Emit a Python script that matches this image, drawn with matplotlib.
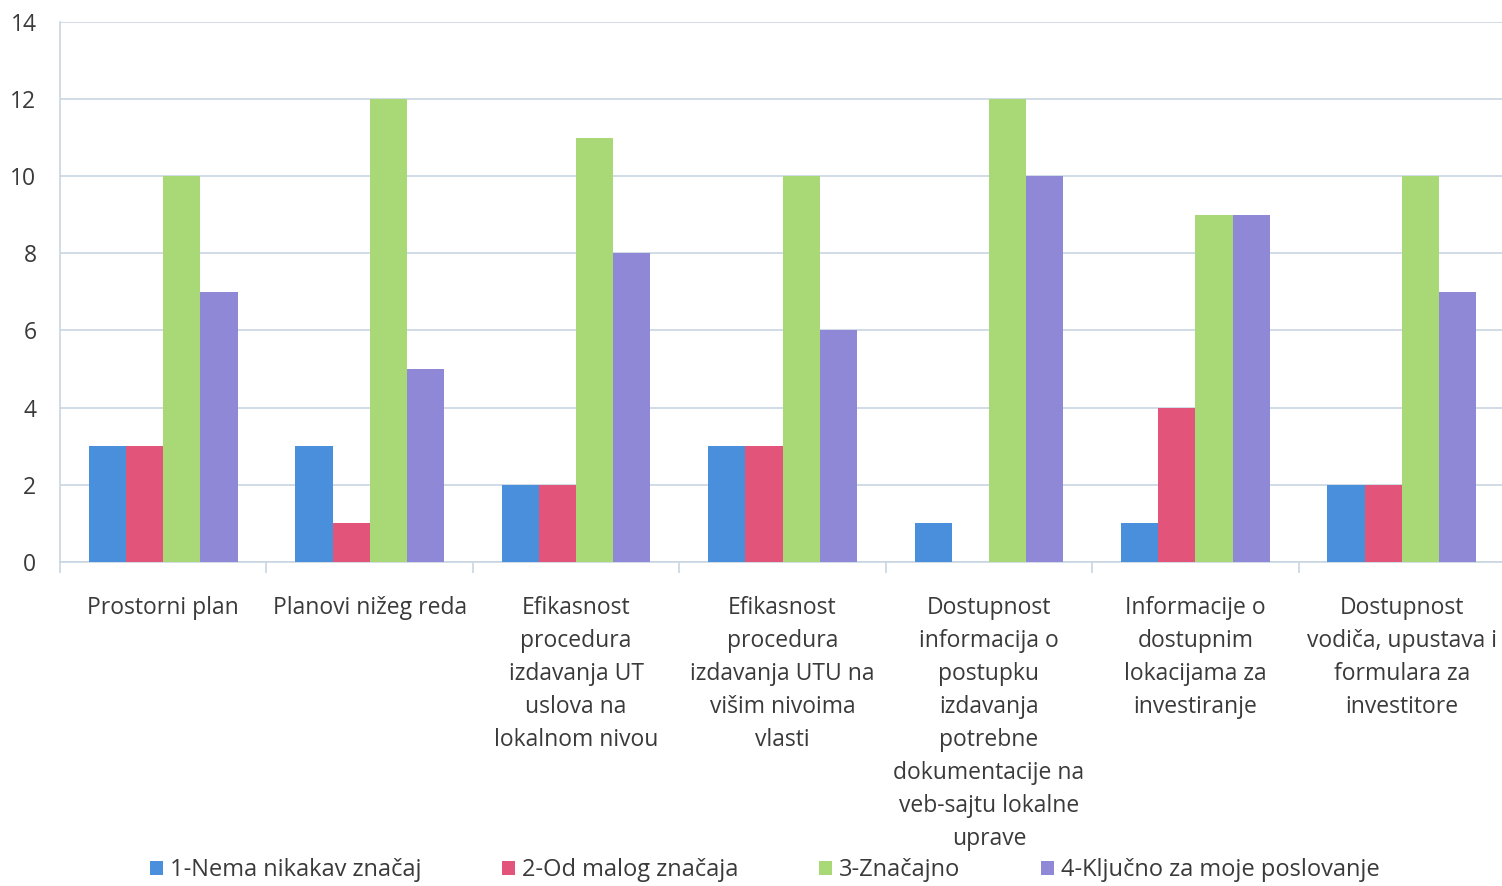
import matplotlib.pyplot as plt
import numpy as np

plt.rcParams['font.family'] = ['Open Sans', 'DejaVu Sans']

kategorije = [
    'Prostorni plan',
    'Planovi nižeg reda',
    'Efikasnost\nprocedura\nizdavanja UT\nuslova na\nlokalnom nivou',
    'Efikasnost\nprocedura\nizdavanja UTU na\nvišim nivoima\nvlasti',
    'Dostupnost\ninformacija o\npostupku\nizdavanja\npotrebne\ndokumentacije na\nveb-sajtu lokalne\nuprave',
    'Informacije o\ndostupnim\nlokacijama za\ninvestiranje',
    'Dostupnost\nvodiča, upustava i\nformulara za\ninvestitore',
]
serije = ['1-Nema nikakav značaj', '2-Od malog značaja', '3-Značajno',
          '4-Ključno za moje poslovanje']
nema_znacaj = [3, 3, 2, 3, 1, 1, 2]
mali_znacaj = [3, 1, 2, 3, 0, 4, 2]
znacajno = [10, 12, 11, 10, 12, 9, 10]
kljucno = [7, 5, 8, 6, 10, 9, 7]
boje = ['#4a8fdc', '#e3547a', '#a9d977', '#8f88d6']

vrijednosti = [nema_znacaj, mali_znacaj, znacajno, kljucno]

fig = plt.figure(figsize=(15.02, 8.86), dpi=100)
ax = fig.add_axes([0.04, 0.366, 0.962, 0.609])

x = np.arange(len(kategorije))
w = 0.18
for i, (v, lab, c) in enumerate(zip(vrijednosti, serije, boje)):
    ax.bar(x + (i - 1.5) * w, v, w, color=c, label=lab, zorder=3)

ax.set_xlim(-0.5, len(kategorije) - 0.5)
ax.set_ylim(0, 14)
ax.set_yticks(range(0, 15, 2))
ax.grid(axis='y', color='#c9d5e2', linewidth=1.2, zorder=0)

# granice kategorija kao glavne oznake, nazivi kao sporedne
ax.set_xticks(np.arange(-0.5, len(kategorije)), labels=[])
ax.set_xticks(x, labels=kategorije, minor=True)
ax.tick_params(axis='x', which='major', length=8, color='#c9d5e2', width=1.2)
ax.tick_params(axis='x', which='minor', length=0, pad=25, labelsize=16.5,
               labelcolor='#3a3a3a')
for t in ax.get_xticklabels(minor=True):
    t.set_linespacing(1.5)
ax.tick_params(axis='y', length=0, pad=17, labelsize=16.5, labelcolor='#3a3a3a')

for s in ['top', 'right']:
    ax.spines[s].set_visible(False)
ax.spines['left'].set_color('#c9d5e2')
ax.spines['bottom'].set_color('#c9d5e2')
ax.spines['left'].set_linewidth(1.2)
ax.spines['bottom'].set_linewidth(1.2)

fig.legend(loc='lower left', bbox_to_anchor=(0.086, -0.02), ncol=4,
           frameon=False, fontsize=17, handlelength=0.55, handleheight=0.55,
           handletextpad=0.3, columnspacing=3.4, labelcolor='#3a3a3a')

fig.savefig('out.png', dpi=100)
plt.close(fig)
